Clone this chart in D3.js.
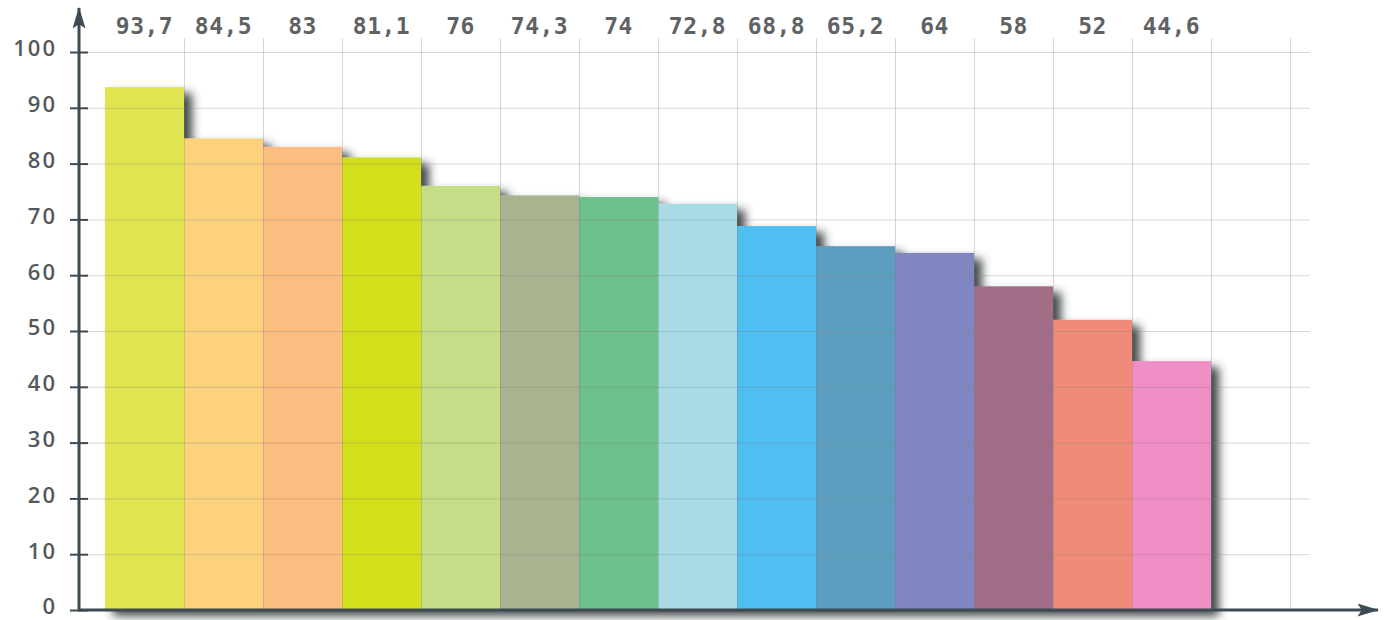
<!DOCTYPE html>
<html>
<head>
<meta charset="utf-8">
<script src="https://cdn.jsdelivr.net/npm/d3@7"></script>
<style>
  html, body { margin: 0; padding: 0; background: #fff; }
  svg { display: block; }
</style>
</head>
<body>
<svg id="chart" width="1385" height="620"></svg>
<script>
// Values shown above each column, left to right
const values = [93.7, 84.5, 83, 81.1, 76, 74.3, 74, 72.8, 68.8, 65.2, 64, 58, 52, 44.6];
const valueLabels = ["93,7", "84,5", "83", "81,1", "76", "74,3", "74", "72,8", "68,8", "65,2", "64", "58", "52", "44,6"];
const barColors = ["#dfe551", "#fdd27c", "#fbbe80", "#d2e01f", "#c6dd88", "#aab38f",
                   "#6dc18d", "#a9dbe7", "#4fbef1", "#5b9ec0", "#7f86c2", "#a26d86",
                   "#f18b79", "#f08ec6"];
const yTicks = [0, 10, 20, 30, 40, 50, 60, 70, 80, 90, 100];
const slotCount = 16;

const svg = d3.select("#chart");
const axisX = 79;

const y = d3.scaleLinear().domain([0, 100]).range([610, 52]);
const x = d3.scaleLinear().domain([0, slotCount]).range([105, 105 + 79 * slotCount]);

const defs = svg.append("defs");
const shadow = defs.append("filter").attr("id", "barShadow")
  .attr("x", "-10%").attr("y", "-10%").attr("width", "130%").attr("height", "130%");
shadow.append("feDropShadow")
  .attr("dx", 8).attr("dy", 6).attr("stdDeviation", 5)
  .attr("flood-color", "#2e3436").attr("flood-opacity", 0.9);

defs.append("marker").attr("id", "arrow")
  .attr("viewBox", "0 0 20 12").attr("refX", 19).attr("refY", 6)
  .attr("markerWidth", 22).attr("markerHeight", 13).attr("markerUnits", "userSpaceOnUse")
  .attr("orient", "auto")
  .append("path").attr("d", "M0,0 L20,6 L0,12 L4,6 z").attr("fill", "#3f4b52");

// Columns with their soft drop shadow
svg.append("g").attr("filter", "url(#barShadow)")
  .selectAll("rect").data(values).join("rect")
  .attr("x", (d, i) => x(i))
  .attr("y", d => y(d))
  .attr("width", (d, i) => x(i + 1) - x(i))
  .attr("height", d => y(0) - y(d))
  .attr("fill", (d, i) => barColors[i]);

// Grid lines drawn over the columns
const grid = svg.append("g").attr("stroke", "#7a7a7a").attr("stroke-opacity", 0.3).attr("stroke-width", 1);
grid.selectAll("line.h").data(yTicks.filter(t => t > 0)).join("line")
  .attr("class", "h")
  .attr("x1", axisX).attr("x2", 1310)
  .attr("y1", d => y(d) + 0.5).attr("y2", d => y(d) + 0.5);
grid.selectAll("line.v").data(d3.range(1, slotCount)).join("line")
  .attr("class", "v")
  .attr("x1", d => x(d) + 0.5).attr("x2", d => x(d) + 0.5)
  .attr("y1", 38).attr("y2", y(0));

// Y axis with tick labels
const yAxis = d3.axisLeft(y).tickValues(yTicks).tickSize(9).tickPadding(13);
const yg = svg.append("g").attr("transform", `translate(${axisX},0)`).call(yAxis);
yg.select(".domain").remove();
yg.selectAll(".tick line").attr("stroke", "#3f4b52").attr("stroke-width", 2).attr("x2", 9).attr("x1", -9);
yg.selectAll(".tick text")
  .attr("dy", "0.18em")
  .attr("fill", "#55595b")
  .style("font-family", "'Open Sans', sans-serif")
  .style("font-weight", "600")
  .style("font-size", "22px")
  .style("letter-spacing", "2px");

// Axis lines with arrow heads
svg.append("line")
  .attr("x1", axisX).attr("x2", axisX).attr("y1", y(0) + 1).attr("y2", 8)
  .attr("stroke", "#3f4b52").attr("stroke-width", 3).attr("marker-end", "url(#arrow)");
svg.append("line")
  .attr("x1", axisX - 1).attr("x2", 1378).attr("y1", y(0)).attr("y2", y(0))
  .attr("stroke", "#3f4b52").attr("stroke-width", 3).attr("marker-end", "url(#arrow)");

// Value labels across the top
svg.append("g").selectAll("text").data(valueLabels).join("text")
  .attr("x", (d, i) => (x(i) + x(i + 1)) / 2)
  .attr("y", 34)
  .attr("text-anchor", "middle")
  .attr("fill", "#5f6264")
  .style("font-family", "'DejaVu Sans Mono', monospace")
  .style("font-weight", "bold")
  .style("font-size", "23px")
  .style("letter-spacing", "0.5px")
  .text(d => d);
</script>
</body>
</html>
